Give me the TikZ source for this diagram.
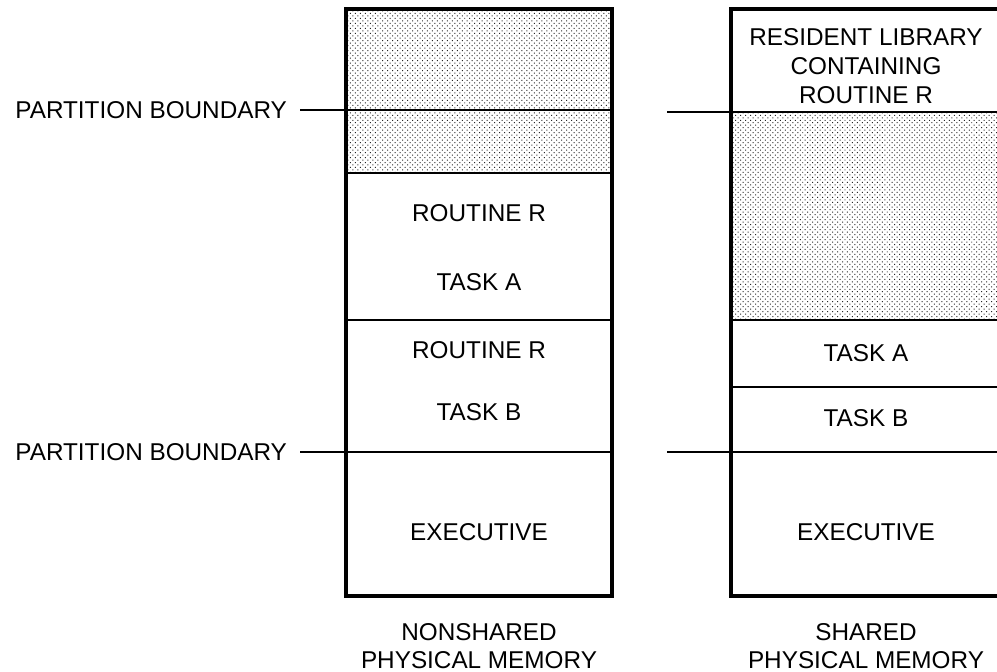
\documentclass[tikz,border=0pt]{standalone}
\usepackage{fontspec}
\setmainfont{Liberation Sans}
\usetikzlibrary{positioning,patterns.meta}

\tikzset{
  lbl/.style={font=\fontsize{20.75}{24.5}\selectfont, align=center, inner sep=0pt},
  memline/.style={line width=3.2pt},
  divline/.style={line width=2.4pt},
  pline/.style={line width=2pt},
  dotfill/.style={pattern={Dots[distance=3pt,radius=0.6pt,angle=45]}, pattern color=black!85}
}

\begin{document}
\begin{tikzpicture}[x=0.03cm,y=-0.03cm]
\useasboundingbox (0,0) rectangle (997,672);

% nonshared physical memory
\fill[dotfill] (346,9) rectangle (612,173);
\draw[divline] (346,110) -- (612,110);
\draw[divline] (346,173) -- (612,173);
\draw[divline] (346,320) -- (612,320);
\draw[divline] (346,452) -- (612,452);
\draw[memline] (346,9) rectangle (612,596);
\coordinate (nstop) at (346,110);
\coordinate (nsbot) at (346,452);

\node[lbl] (nsrtna) at (479,213) {ROUTINE R};
\node[lbl] (nstska) at (479,282) {TASK A};
\node[lbl] (nsrtnb) at (479,350) {ROUTINE R};
\node[lbl] (nstskb) at (479,412) {TASK B};
\node[lbl] (nsexec) at (479,532) {EXECUTIVE};
\node[lbl] (nscap) at (479,646) {NONSHARED\\PHYSICAL MEMORY};

\node[lbl, anchor=east, inner xsep=11pt] (pbtop) at (300,110) {PARTITION BOUNDARY};
\node[lbl, anchor=east, inner xsep=11pt] (pbbot) at (300,452) {PARTITION BOUNDARY};
\draw[pline] (pbtop.east) -- (nstop);
\draw[pline] (pbbot.east) -- (nsbot);

% shared physical memory
\fill[dotfill] (731,112) rectangle (1001,320);
\draw[divline] (731,112) -- (1001,112);
\draw[divline] (731,320) -- (1001,320);
\draw[divline] (731,387) -- (1001,387);
\draw[divline] (731,452) -- (1001,452);
\draw[memline] (731,9) rectangle (1001,596);
\coordinate (shtop) at (731,112);
\coordinate (shbot) at (731,452);
\coordinate (shtopl) at (667,112);
\coordinate (shbotl) at (667,452);

\node[lbl] (shlib) at (866,66) {RESIDENT LIBRARY\\CONTAINING\\ROUTINE R};
\node[lbl] (shtska) at (866,353) {TASK A};
\node[lbl] (shtskb) at (866,418) {TASK B};
\node[lbl] (shexec) at (866,532) {EXECUTIVE};
\node[lbl] (shcap) at (866,646) {SHARED\\PHYSICAL MEMORY};

\draw[pline] (shtopl) -- (shtop);
\draw[pline] (shbotl) -- (shbot);
\end{tikzpicture}
\end{document}
